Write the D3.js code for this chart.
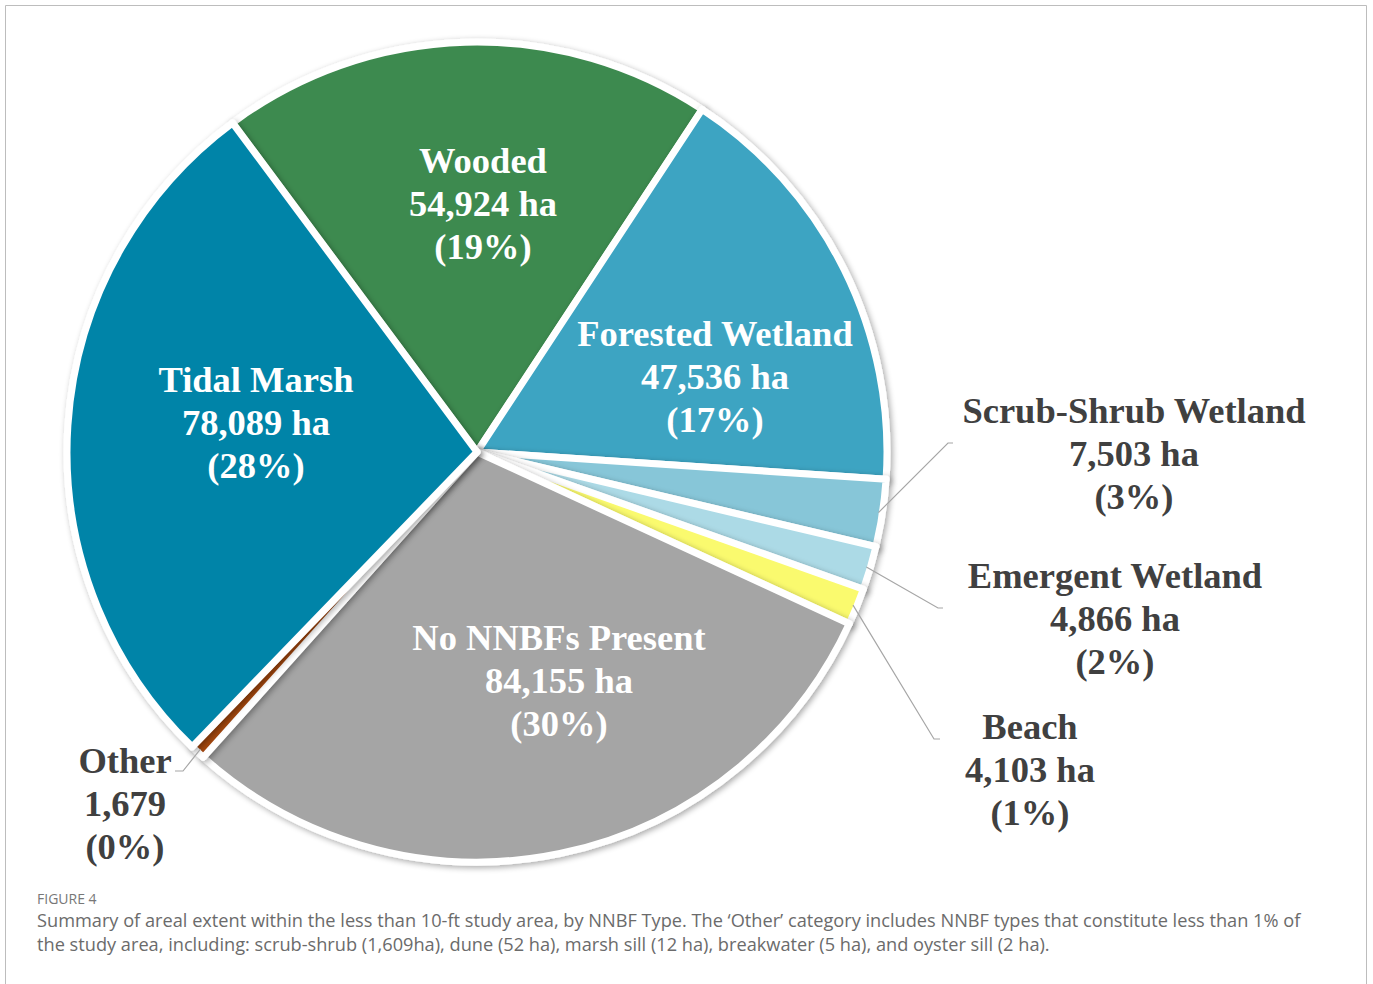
<!DOCTYPE html>
<html>
<head>
<meta charset="utf-8">
<script src="https://cdn.jsdelivr.net/npm/d3@7"></script>
<style>
  body { margin: 0; background: #fff; }
  svg text { font-family: "Liberation Serif", "Times New Roman", serif; font-weight: bold; }
  .cap { font-family: "Open Sans", Lato, sans-serif; font-weight: normal; }
</style>
</head>
<body>
<div id="chart"></div>
<script>
// data, clockwise from the Wooded / Tidal Marsh boundary
var names  = ['Wooded', 'Forested Wetland', 'Scrub-Shrub Wetland', 'Emergent Wetland',
              'Beach', 'No NNBFs Present', 'Other', 'Tidal Marsh']
var values = [54924, 47536, 7503, 4866, 4103, 84155, 1679, 78089]
var valueText = ['54,924 ha', '47,536 ha', '7,503 ha', '4,866 ha',
                 '4,103 ha', '84,155 ha', '1,679', '78,089 ha']
var pctText = ['(19%)', '(17%)', '(3%)', '(2%)', '(1%)', '(30%)', '(0%)', '(28%)']
var colors = ['#3e8a4f', '#3ea4c2', '#87c6d8', '#acdae6',
              '#fafa6e', '#a5a5a5', '#a3460f', '#0584a8']

var captionHead = 'FIGURE 4'
var captionLines = [
  'Summary of areal extent within the less than 10-ft study area, by NNBF Type. The \u2018Other\u2019 category includes NNBF types that constitute less than 1% of',
  'the study area, including: scrub-shrub (1,609ha), dune (52 ha), marsh sill (12 ha), breakwater (5 ha), and oyster sill (2 ha).'
]

var W = 1373, H = 984
  , cx = 477, cy = 452, R = 410
  , start = -36.6 * Math.PI / 180

// label centre (first line middle) and leader elbow for outside labels
var labelAt = {
  'Wooded':              { x: 483,  y: 161, fill: '#fff' },
  'Forested Wetland':    { x: 715,  y: 334, fill: '#fff' },
  'Tidal Marsh':         { x: 256,  y: 380, fill: '#fff' },
  'No NNBFs Present':    { x: 559,  y: 638, fill: '#fff' },
  'Scrub-Shrub Wetland': { x: 1134, y: 411, fill: '#404040', elbow: [948, 443], tail: 953 },
  'Emergent Wetland':    { x: 1115, y: 576, fill: '#404040', elbow: [938, 608], tail: 943 },
  'Beach':               { x: 1030, y: 727, fill: '#404040', elbow: [934, 739], tail: 940 },
  'Other':               { x: 125,  y: 761, fill: '#404040', elbow: [183, 771], tail: 175 }
}

var svg = d3.select('#chart').append('svg').attr('width', W).attr('height', H)

// figure frame
svg.append('path')
   .attr('d', 'M5.5,' + H + 'V5.5H1366.5V' + H)
   .attr('fill', 'none').attr('stroke', '#bdbdbd')

var defs = svg.append('defs')
var f = defs.append('filter').attr('id', 'sh')
          .attr('x', '-20%').attr('y', '-20%').attr('width', '140%').attr('height', '140%')
f.append('feGaussianBlur').attr('in', 'SourceAlpha').attr('stdDeviation', 3).attr('result', 'b')
f.append('feOffset').attr('in', 'b').attr('dx', 2).attr('dy', 2).attr('result', 'o')
f.append('feComponentTransfer').attr('in', 'o').attr('result', 'o2')
 .append('feFuncA').attr('type', 'linear').attr('slope', 0.35)
var m = f.append('feMerge')
m.append('feMergeNode').attr('in', 'o2')
m.append('feMergeNode').attr('in', 'SourceGraphic')

var pie = d3.pie().sort(null).startAngle(start).endAngle(start + 2 * Math.PI)
var arcs = pie(values)
var arc = d3.arc().innerRadius(0).outerRadius(R)

var g = svg.append('g').attr('transform', 'translate(' + cx + ',' + cy + ')')

g.selectAll('path.slice').data(arcs)
 .enter().append('path')
 .attr('class', 'slice')
 .attr('d', arc)
 .attr('fill', function (d, i) { return colors[i] })
 .attr('stroke', '#fff')
 .attr('stroke-width', 7)
 .attr('stroke-linejoin', 'round')
 .attr('filter', 'url(#sh)')

// leader lines
arcs.forEach(function (d, i) {
  var L = labelAt[names[i]]
  if (!L.elbow) return
  var a = (d.startAngle + d.endAngle) / 2
    , x0 = cx + (R - 4) * Math.sin(a)
    , y0 = cy - (R - 4) * Math.cos(a)
  svg.append('polyline')
     .attr('points', [[x0, y0], L.elbow, [L.tail, L.elbow[1]]].join(' '))
     .attr('fill', 'none').attr('stroke', '#a6a6a6').attr('stroke-width', 1.2)
})

// labels
names.forEach(function (n, i) {
  var L = labelAt[n]
  var t = svg.append('text')
             .attr('text-anchor', 'middle')
             .attr('font-size', 36.5)
             .attr('fill', L.fill)
  ;[n, valueText[i], pctText[i]].forEach(function (s, k) {
    t.append('tspan').attr('x', L.x).attr('y', L.y + 12 + k * 43).text(s)
  })
})

// caption
svg.append('text').attr('class', 'cap')
   .attr('x', 37).attr('y', 904)
   .attr('font-size', 14).attr('fill', '#777')
   .text(captionHead)
svg.selectAll('text.capline').data(captionLines)
   .enter().append('text')
   .attr('class', 'cap capline')
   .attr('x', 37)
   .attr('y', function (d, i) { return 927 + i * 24 })
   .attr('font-size', 18.2)
   .attr('fill', '#6b6b6b')
   .text(function (d) { return d })
</script>
</body>
</html>
